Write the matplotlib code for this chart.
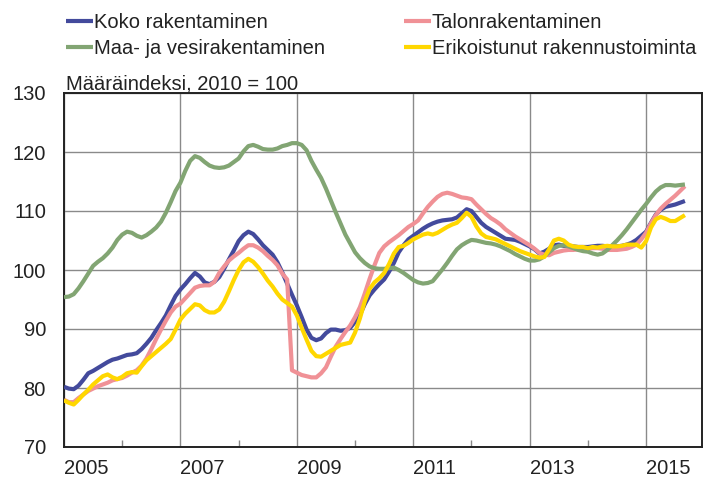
import matplotlib
matplotlib.use('Agg')
import matplotlib.pyplot as plt
import numpy as np
from matplotlib.lines import Line2D

plt.rcParams['font.family'] = ['Liberation Sans', 'DejaVu Sans']

# ---------------- data (monthly, Jan 2005 - Sep 2015) ----------------
koko = [
    80.2, 79.9, 79.8, 80.4, 81.4, 82.5, 82.9, 83.4, 83.9, 84.4, 84.8, 85.0,          # 2005
    85.3, 85.6, 85.7, 85.9, 86.6, 87.5, 88.5, 89.8, 91.0, 92.3, 94.0, 95.6,          # 2006
    96.7, 97.6, 98.6, 99.5, 98.9, 97.9, 97.6, 98.0, 98.8, 100.2, 101.8, 103.3,       # 2007
    104.9, 105.9, 106.5, 106.1, 105.2, 104.2, 103.4, 102.6, 101.3, 99.6, 97.7, 95.8, # 2008
    94.0, 92.0, 89.9, 88.5, 88.1, 88.4, 89.3, 89.9, 89.9, 89.7, 89.8, 90.2,          # 2009
    91.2, 92.4, 94.2, 95.7, 96.7, 97.6, 98.4, 99.7, 101.2, 103.0, 104.2, 105.2,      # 2010
    105.8, 106.4, 107.0, 107.5, 107.9, 108.2, 108.4, 108.5, 108.6, 108.9, 109.6, 110.3,  # 2011
    110.0, 109.0, 108.0, 107.3, 106.8, 106.3, 105.8, 105.3, 105.2, 105.1, 104.8, 104.4,  # 2012
    104.0, 103.5, 102.8, 103.1, 103.6, 104.2, 104.3, 104.1, 104.0, 104.0, 103.9, 103.9,  # 2013
    103.9, 104.0, 104.1, 104.1, 104.0, 104.0, 104.0, 104.1, 104.3, 104.6, 105.1, 105.8,  # 2014
    106.5, 108.0, 109.4, 110.2, 110.7, 110.9, 111.1, 111.4, 111.7,                       # 2015
]

talon = [
    78.0, 77.6, 77.6, 78.3, 78.9, 79.5, 79.9, 80.3, 80.6, 80.9, 81.3, 81.5,          # 2005
    81.7, 82.1, 82.6, 83.0, 83.8, 85.0, 86.6, 88.3, 89.9, 91.4, 92.8, 93.8,          # 2006
    94.3, 95.2, 96.1, 97.0, 97.3, 97.4, 97.4, 98.0, 99.5, 100.6, 101.6, 102.3,       # 2007
    102.9, 103.6, 104.2, 104.2, 103.8, 103.2, 102.4, 101.7, 100.8, 99.4, 98.4, 83.0, # 2008
    82.6, 82.2, 82.0, 81.8, 81.8, 82.5, 83.5, 85.3, 87.0, 88.3, 89.5, 90.6,          # 2009
    92.0, 93.7, 96.0, 98.5, 100.8, 102.9, 104.0, 104.7, 105.3, 105.9, 106.6, 107.3,  # 2010
    107.8, 108.4, 109.6, 110.7, 111.6, 112.4, 112.9, 113.1, 112.9, 112.6, 112.3, 112.2,  # 2011
    112.0, 111.1, 110.3, 109.5, 108.8, 108.3, 107.7, 106.9, 106.3, 105.7, 105.2, 104.7,  # 2012
    104.2, 103.6, 102.9, 102.6, 102.5, 102.9, 103.1, 103.3, 103.4, 103.4, 103.5, 103.5,  # 2013
    103.6, 103.7, 103.7, 103.6, 103.4, 103.4, 103.4, 103.5, 103.6, 103.9, 104.3, 105.2,  # 2014
    106.3, 107.9, 109.3, 110.4, 111.2, 111.9, 112.6, 113.4, 114.2,                       # 2015
]

maa = [
    95.4, 95.5, 95.9, 96.9, 98.1, 99.4, 100.7, 101.4, 102.0, 102.8, 103.8, 105.1,    # 2005
    106.0, 106.5, 106.3, 105.8, 105.5, 105.9, 106.5, 107.2, 108.2, 109.7, 111.5, 113.4,  # 2006
    114.8, 116.8, 118.5, 119.3, 119.0, 118.3, 117.7, 117.4, 117.3, 117.4, 117.7, 118.3,  # 2007
    118.9, 120.1, 121.0, 121.2, 120.9, 120.5, 120.4, 120.4, 120.6, 121.0, 121.2, 121.5,  # 2008
    121.5, 121.2, 120.3, 118.5, 117.0, 115.6, 113.8, 111.8, 109.8, 107.9, 106.0, 104.5,  # 2009
    103.0, 102.0, 101.2, 100.6, 100.3, 100.2, 100.2, 100.3, 100.4, 100.0, 99.5, 98.9,    # 2010
    98.3, 97.9, 97.7, 97.8, 98.1, 99.1, 100.1, 101.2, 102.4, 103.5, 104.2, 104.7,        # 2011
    105.1, 105.0, 104.8, 104.6, 104.5, 104.3, 104.0, 103.6, 103.2, 102.7, 102.3, 101.9,  # 2012
    101.6, 101.6, 101.8, 102.3, 103.0, 103.7, 104.1, 104.2, 104.0, 103.7, 103.4, 103.2,  # 2013
    103.1, 102.8, 102.6, 102.8, 103.4, 104.2, 105.0, 105.9, 106.9, 108.0, 109.1, 110.2,  # 2014
    111.2, 112.3, 113.3, 114.0, 114.4, 114.4, 114.3, 114.4, 114.5,                       # 2015
]

eriko = [
    77.9, 77.5, 77.2, 78.0, 78.9, 79.7, 80.6, 81.3, 82.0, 82.3, 81.8, 81.5,          # 2005
    81.9, 82.5, 82.7, 82.6, 83.7, 84.7, 85.4, 86.1, 86.8, 87.5, 88.3, 89.9,          # 2006
    91.6, 92.6, 93.4, 94.2, 94.0, 93.2, 92.8, 92.8, 93.3, 94.6, 96.4, 98.3,          # 2007
    100.0, 101.3, 101.9, 101.4, 100.5, 99.4, 98.2, 97.2, 96.0, 95.0, 94.4, 93.8,     # 2008
    92.3, 90.2, 88.2, 86.3, 85.4, 85.3, 85.8, 86.3, 86.8, 87.3, 87.5, 87.7,          # 2009
    89.4, 91.8, 94.7, 96.8, 97.9, 98.6, 99.5, 101.0, 102.8, 103.9, 104.1, 104.6,     # 2010
    105.2, 105.6, 106.0, 106.2, 106.0, 106.3, 106.8, 107.3, 107.7, 108.0, 108.8, 109.7,  # 2011
    109.0, 107.4, 106.2, 105.6, 105.4, 105.2, 104.8, 104.4, 104.0, 103.6, 103.2, 102.9,  # 2012
    102.6, 102.3, 102.1, 102.2, 103.5, 105.0, 105.3, 105.0, 104.3, 104.0, 103.9, 103.9,  # 2013
    103.7, 103.9, 103.8, 104.0, 104.1, 104.0, 104.0, 104.1, 104.3, 104.3, 104.3, 103.8,  # 2014
    104.9, 107.2, 108.6, 109.0, 108.7, 108.3, 108.3, 108.8, 109.3,                       # 2015
]

series_names = ['Koko rakentaminen', 'Talonrakentaminen',
                'Maa- ja vesirakentaminen', 'Erikoistunut rakennustoiminta']
series_data = [koko, talon, maa, eriko]
series_colors = ['#434A9C', '#F09196', '#82A573', '#FFD700']

start_year = 2005
label_years = [2005, 2007, 2009, 2011, 2013, 2015]
minor_years = [2006, 2008, 2010, 2012, 2014]
y_ticks = [70, 80, 90, 100, 110, 120, 130]
subtitle = 'Määräindeksi, 2010 = 100'

# ---------------- figure ----------------
W, H = 706, 482
fig = plt.figure(figsize=(W / 100, H / 100), dpi=100)
ax = fig.add_axes([64 / W, 1 - 447 / H, (702 - 64) / W, (447 - 93) / H])

for vals, col in zip(series_data, series_colors):
    x = start_year + np.arange(len(vals)) / 12.0
    ax.plot(x, vals, color=col, lw=3.0, solid_joinstyle='round',
            solid_capstyle='butt', zorder=3)

ax.set_xlim(2005.0, 2015.96)
ax.set_ylim(70, 130)
ax.set_yticks(y_ticks)
ax.set_xticks(label_years)
ax.set_xticklabels([str(y) for y in label_years], ha='left')
ax.set_xticks(minor_years, minor=True)

ax.tick_params(axis='y', length=0, pad=13, labelsize=14.5, colors='#222222')
ax.tick_params(axis='x', which='major', length=0, pad=8.5, labelsize=14.5,
               colors='#222222')
ax.tick_params(axis='x', which='minor', direction='in', length=5, width=1,
               color='#888888')

ax.grid(True, which='major', color='#8a8a8a', lw=1.0)
ax.set_axisbelow(True)
for sp in ax.spines.values():
    sp.set_color('#222222')
    sp.set_linewidth(1.4)

fig.text(66.5 / W, 1 - 90 / H, subtitle, fontsize=14.5, va='baseline',
         ha='left', color='#222222')

# ---------------- legend ----------------
leg_pos = [(66, 20.7), (404, 20.7), (66, 47.3), (404, 47.3)]
for (lx, ly), name, col in zip(leg_pos, series_names, series_colors):
    fig.add_artist(Line2D([lx / W, (lx + 27) / W], [1 - ly / H, 1 - ly / H],
                          color=col, lw=3.0, solid_capstyle='butt'))
    fig.text((lx + 28) / W, 1 - (ly + 6.8) / H, name, fontsize=14.5,
             va='baseline', ha='left', color='#222222')

fig.savefig('out.png', dpi=100)
